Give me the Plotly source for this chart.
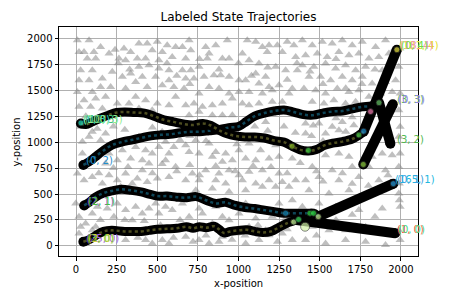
import plotly.graph_objects as go

# ---------------- data ----------------
x_ticks = [0, 250, 500, 750, 1000, 1250, 1500, 1750, 2000]
y_ticks = [0, 250, 500, 750, 1000, 1250, 1500, 1750, 2000]

# background obstacles (gray triangles)
tri_points = [
    (8,1982),(80,1982),(18,1869),(69,1805),(121,1805),(151,1917),(203,1853),(295,1901),(336,1869),(387,1950),
    (438,1950),(500,1966),(561,1933),(613,1917),(469,1885),(531,1869),(377,1805),(428,1805),(510,1789),(592,1821),
    (110,1869),(49,1869),(305,1789),(264,1805),
    (28,1693),(100,1693),(223,1677),(336,1661),(387,1725),(449,1741),(510,1709),(572,1693),(285,1629),(408,1629),
    (490,1629),(572,1596),(18,1596),(80,1596),(162,1612),(213,1532),(305,1516),(367,1580),(438,1532),(531,1548),
    (602,1532),(8,1484),(100,1484),(151,1532),
    (49,1404),(121,1420),(182,1436),(254,1372),(326,1372),(367,1436),(428,1404),(500,1372),(572,1356),(613,1436),
    (18,1340),(90,1340),(162,1324),(469,1308),(387,1324),
    (28,1147),(100,1099),(182,1083),(387,1051),(551,1003),(602,954),(80,1051),(39,1003),(151,1019),(285,922),
    (367,954),(428,922),(469,890),(510,954),(572,890),(39,890),(110,858),(203,890),(254,826),(336,842),
    (408,826),(449,794),(551,826),(613,762),(182,794),
    (8,698),(49,633),(100,665),(203,682),(162,601),(254,633),(305,698),(377,649),(438,617),(500,649),
    (572,665),(408,730),(274,569),(346,601),
    (-2,409),(18,280),(28,184),(59,216),(100,312),(131,377),(192,361),(254,409),(305,345),(367,377),
    (408,312),(449,361),(490,409),(551,377),(592,345),(100,152),(121,184),(233,280),(346,248),(510,312),
    (428,56),(469,24),(531,56),(572,24),(305,56),(18,120),
    (696,1982),(655,1917),(706,1885),(675,1805),(798,1917),(860,1933),(819,1853),(808,1805),(901,1805),(942,1805),
    (931,1982),(1054,1982),(1106,1966),(1147,1917),(1188,1933),(1239,1933),(1300,1966),(1341,1933),(1024,1853),(1065,1789),
    (1126,1757),(1177,1869),(1270,1869),(1352,1821),
    (655,1693),(706,1693),(757,1725),(675,1612),(726,1612),(788,1629),(849,1645),(890,1645),(942,1629),(1003,1596),
    (1044,1596),(1106,1661),(1167,1629),(1229,1725),(1290,1693),(1362,1693),(1126,1564),(1188,1532),(1249,1548),(1331,1516),
    (665,1516),(757,1468),(819,1532),(880,1516),(942,1468),(1003,1484),(1065,1484),(1147,1468),(1208,1500),(1311,1468),
    (675,1356),(726,1372),(778,1340),(839,1356),(901,1372),(962,1420),(1024,1372),(1065,1356),(1126,1372),(1208,1388),
    (1270,1388),(696,1259),(757,1292),(839,1259),(901,1259),(962,1259),(1167,1195),
    (675,971),(737,1019),(819,987),(860,906),(921,890),(1003,922),(1065,987),(1136,922),(1229,971),(696,906),
    (757,890),(839,858),(901,810),(962,826),(1044,842),(1106,826),(1188,842),(1249,858),(1331,842),(716,698),
    (798,730),(880,698),(942,730),(1003,682),(1065,714),(1147,730),(1249,698),(675,633),(757,633),(860,633),
    (921,601),(1024,633),(1106,601),(1188,633),(1270,617),(1352,633),(737,537),(839,553),(942,521),(1044,537),
    (1147,569),(1229,569),(1311,569),
    (655,409),(757,361),(860,377),(962,393),(1044,409),(1126,361),(1249,409),(1331,441),(696,280),(778,312),
    (901,280),(1003,312),(1106,264),(1208,280),(1290,264),(675,88),(757,56),(819,24),(901,88),(983,120),
    (1044,24),(1126,56),(1188,104),(1270,120),(1331,56),(942,248),(839,216),(1065,184),(1167,152),
    (1393,1982),(1454,1933),(1516,1966),(1577,1950),(1639,1982),(1700,1933),(1762,1966),(1844,1917),(1905,1982),(1413,1837),
    (1485,1853),(1546,1821),(1618,1869),(1680,1837),(1741,1853),(1803,1805),(1864,1821),(1926,1853),(1393,1741),(1464,1725),
    (1536,1757),(1598,1709),(1659,1741),(1721,1693),(1782,1725),(1885,1693),(1987,1725),(1434,1629),(1505,1629),(1567,1596),
    (1639,1629),(1700,1596),(1762,1629),(1823,1564),(1905,1580),(1967,1596),(1403,1516),(1475,1500),(1536,1468),(1608,1516),
    (1680,1484),(1741,1500),(1803,1436),(1874,1468),(1946,1484),(1995,1468),(1454,1388),(1526,1372),(1587,1404),(1659,1372),
    (1721,1388),(1782,1340),(1926,1340),(1987,1308),
    (1413,1179),(1495,1179),(1577,1147),(1639,1195),(1710,1163),(1864,1115),(1995,1147),(1413,1083),(1536,1083),(1618,1115),
    (1987,1051),(1536,874),(1618,890),(1680,858),(1823,858),(1885,890),(1946,874),(1995,890),(1454,762),(1577,730),
    (1700,762),(1803,762),(1905,730),(1987,762),(1413,633),(1495,665),(1618,633),(1741,665),(1864,633),(1990,601),
    (1434,537),(1557,505),(1680,537),(1782,473),(1885,537),(1987,505),(1990,441),
    (1393,377),(1495,409),(1598,377),(1741,345),(1885,361),(1995,377),(1454,184),(1557,152),(1659,152),(1782,184),
    (1885,120),(1987,152),(1413,56),(1536,24),(1659,56),(1782,40),(1905,8),(1995,56),
    # denser clusters seen in the picture
    (240,1890),(260,1760),(330,1700),(560,1760),(620,1640),(700,1560),(760,1800),(880,1700),(1000,1760),(1080,1640),
    (1180,1720),(1300,1600),(1360,1760),(1440,1680),(1520,1560),(1600,1800),(1660,1520),(1760,1560),(1840,1700),(1960,1900),
    (60,1250),(130,1130),(230,1150),(300,1120),(470,1140),(530,1100),(640,1020),(700,1060),(800,1010),(990,980),
    (1100,1150),(1180,1110),(1280,1150),(1350,1090),(1450,1060),(1520,1010),(1600,1230),(1700,1240),(1660,1100),(1460,1160),
    (140,700),(230,750),(320,760),(470,700),(530,790),(620,720),(700,780),(760,680),(860,770),(980,720),
    (1090,770),(1200,760),(1300,700),(1380,800),(1480,720),(1640,700),(1700,600),(1520,620),(1800,580),(1920,680),
    (150,250),(200,120),(300,250),(380,80),(420,240),(520,200),(600,80),(640,250),(720,40),(800,100),
    (880,40),(960,60),(1040,100),(1120,200),(1240,40),(1300,160),(1480,100),(1600,250),(1700,300),(1840,280),
]
tri_x = [p[0] for p in tri_points]
tri_y = [p[1] for p in tri_points]

# trajectories: wiggly part, then a straight final leg
t0_x = [45, 80, 120, 170, 220, 300, 400, 450, 500, 560, 620, 680, 720, 760, 800, 850, 880, 910, 950, 1000,
        1050, 1100, 1150, 1200, 1250, 1300, 1358]
t0_y = [40, 60, 100, 140, 150, 140, 140, 150, 160, 165, 170, 185, 170, 185, 175, 190, 160, 125, 140, 150,
        155, 140, 130, 140, 180, 220, 250]
t0_end = (1965, 122)

t1_x = [50, 80, 120, 170, 220, 280, 340, 400, 450, 500, 560, 620, 680, 740, 800, 860, 920, 980, 1040, 1100,
        1160, 1220, 1280, 1350, 1420, 1470, 1491]
t1_y = [390, 420, 470, 510, 530, 545, 535, 520, 500, 480, 480, 470, 465, 475, 440, 410, 420, 390, 370, 360,
        345, 330, 315, 315, 315, 312, 282]
t1_end = (1953, 600)

t2_x = [45, 80, 120, 170, 220, 280, 340, 400, 460, 520, 580, 640, 700, 760, 820, 880, 940, 1000, 1050, 1100,
        1160, 1220, 1280, 1340, 1400, 1460, 1520, 1580, 1640, 1700, 1760, 1820, 1865]
t2_y = [780, 810, 860, 920, 970, 1000, 1020, 1040, 1060, 1070, 1075, 1090, 1100, 1100, 1110, 1120, 1140, 1150, 1200, 1250,
        1280, 1300, 1310, 1290, 1265, 1260, 1280, 1295, 1300, 1320, 1340, 1350, 1380]
t2_end = (1935, 985)

t3_x = [30, 60, 100, 150, 200, 250, 300, 360, 420, 480, 540, 600, 660, 720, 780, 830, 880, 930, 980, 1040,
        1100, 1160, 1220, 1280, 1330, 1380, 1430, 1480, 1530, 1580, 1640, 1700, 1740, 1770]
t3_y = [1180, 1170, 1195, 1230, 1260, 1285, 1290, 1285, 1280, 1250, 1215, 1195, 1175, 1165, 1180, 1160, 1115, 1080, 1060, 1050,
        1050, 1040, 1015, 1000, 960, 925, 915, 930, 970, 990, 1005, 1030, 1065, 1100]
t3_end = (1975, 1890)

t4_start = (1768, 785)
t4_end = (1950, 1365)

inner_colors = ["#4d4d20", "#0f4658", "#0f4658", "#4d4d20"]

# highlighted states
dot_x = [1290, 1440, 1462, 1491, 1340, 1370, 1410, 1953, 1330, 1430, 1741, 1770, 1813, 1865, 1768, 1975, 30]
dot_y = [315, 315, 315, 282, 230, 255, 185, 600, 960, 920, 1069, 1105, 1294, 1380, 785, 1890, 1185]
dot_c = ["#1a8fbf", "#33dd44", "#33dd44", "#c8ee90", "#c4f09a", "#3ee060", "#d2f2a8", "#2a9fe0", "#8fbf2a", "#3ed040",
         "#44c244", "#2090d0", "#f27fb2", "#66c466", "#90d040", "#e6e040", "#22e0c0"]
dot_s = [6, 6, 6, 6, 6, 6, 9, 6, 6, 6, 6, 6, 6, 6, 6, 6, 6]

# state labels
lab_text = ["(0, 3)", "(10, 3)", "(100, 3)", "(0, 2)", "(2, 1)", "(2, 1)", "(25, 0)", "(3, 0)", "(2, 0)",
            "(1, 0)", "(0, 0)", "(165, 1)", "(0, 1)", "(3, 2)", "(3, 3)", "(0, 3)", "(181, 4)", "(18, 4)", "(0, 4)"]
lab_x = [30, 40, 30, 50, 55, 60, 50, 55, 60, 1965, 1970, 1953, 1965, 1965, 1965, 1970, 1975, 1980, 1990]
lab_y = [1185, 1185, 1185, 790, 400, 400, 45, 45, 45, 130, 130, 610, 610, 1000, 1385, 1385, 1900, 1900, 1900]
lab_c = ["#22d8c8", "#40c080", "#90ee90", "#1f8fcf", "#9b5de5", "#44c044", "#9b5de5", "#66cc44", "#d4d040",
         "#ff4a4a", "#44e080", "#22b8e0", "#3aa0e0", "#50b850", "#50b850", "#9a80e0", "#e4e020", "#f090b0", "#70e040"]

# ---------------- figure ----------------
fig = go.Figure()

fig.add_trace(go.Scatter(x=tri_x, y=tri_y, mode="markers",
                         marker=dict(symbol="triangle-up", size=8, color="rgba(128,128,128,0.5)",
                                     line=dict(width=0)),
                         hoverinfo="skip"))

trajs = [(t0_x, t0_y, t0_end), (t1_x, t1_y, t1_end), (t2_x, t2_y, t2_end), (t3_x, t3_y, t3_end)]
for (tx, ty, tend), ic in zip(trajs, inner_colors):
    fig.add_trace(go.Scatter(x=[tx[-1], tend[0]], y=[ty[-1], tend[1]], mode="lines+markers",
                             line=dict(color="black", width=10), marker=dict(color="black", size=10),
                             hoverinfo="skip"))
    fig.add_trace(go.Scatter(x=tx, y=ty, mode="lines", line=dict(color="black", width=9, shape="spline"),
                             hoverinfo="skip"))
    fig.add_trace(go.Scatter(x=[tx[0]], y=[ty[0]], mode="markers",
                             marker=dict(color="black", size=10), hoverinfo="skip"))
    fig.add_trace(go.Scatter(x=tx, y=ty, mode="lines",
                             line=dict(color=ic, width=2.5, shape="spline", dash="dot"),
                             hoverinfo="skip"))

fig.add_trace(go.Scatter(x=[t4_start[0], t4_end[0]], y=[t4_start[1], t4_end[1]], mode="lines+markers",
                         line=dict(color="black", width=10), marker=dict(color="black", size=10),
                         hoverinfo="skip"))

fig.add_trace(go.Scatter(x=dot_x, y=dot_y, mode="markers",
                         marker=dict(color=dot_c, size=dot_s, line=dict(color="#222222", width=0.8)),
                         hoverinfo="skip"))

for t, x, y, c in zip(lab_text, lab_x, lab_y, lab_c):
    fig.add_annotation(x=x, y=y, text=t, showarrow=False, xanchor="left", yanchor="middle",
                       yshift=3, font=dict(family="DejaVu Sans", size=10, color=c))

axis_common = dict(showgrid=True, gridcolor="#b0b0b0", gridwidth=0.8, zeroline=False,
                   showline=True, linecolor="black", linewidth=1, mirror=True, automargin=False,
                   ticks="outside", ticklen=3.5, tickcolor="black", tickwidth=0.8,
                   tickfont=dict(family="DejaVu Sans", size=10, color="black"))

fig.update_xaxes(range=[-105, 2105], tickvals=x_ticks, **axis_common)
fig.update_yaxes(range=[-97, 2109], tickvals=y_ticks, **axis_common)

fig.add_annotation(text="x-position", xref="paper", yref="paper", x=0.5, y=-0.118,
                   showarrow=False, yanchor="middle", font=dict(family="DejaVu Sans", size=10, color="black"))
fig.add_annotation(text="y-position", xref="paper", yref="paper", x=-0.117, y=0.5, textangle=-90,
                   showarrow=False, xanchor="center", font=dict(family="DejaVu Sans", size=10, color="black"))

# the page body adds an 8px offset, so margins are shifted to keep the plot box in place
fig.update_layout(
    width=450, height=300,
    margin=dict(l=51, r=40, t=19, b=52, autoexpand=False),
    paper_bgcolor="white", plot_bgcolor="white",
    showlegend=False,
    title=dict(text="Labeled State Trajectories", xref="paper", x=0.5, xanchor="center",
               yref="container", y=0.97, yanchor="middle",
               font=dict(family="DejaVu Sans", size=12, color="black")),
)

fig.write_html("out.html")
